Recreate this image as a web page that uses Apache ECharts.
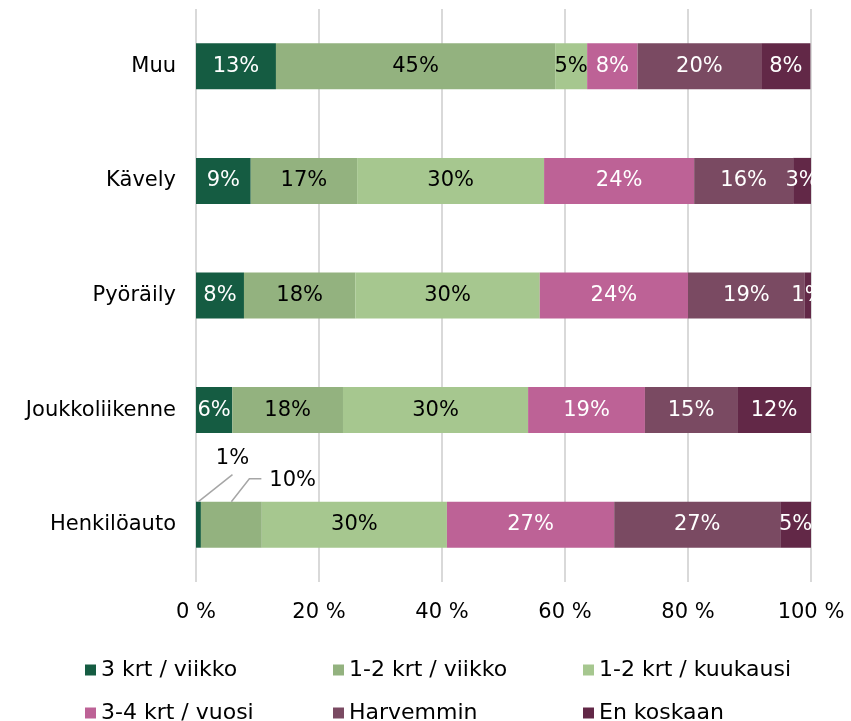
<!DOCTYPE html>
<html>
<head>
<meta charset="utf-8">
<script src="https://cdn.jsdelivr.net/npm/echarts@6/dist/echarts.min.js"></script>
<style>
  html, body { margin: 0; padding: 0; background: #fff; }
  #chart { width: 851px; height: 721px; }
</style>
</head>
<body>
<div id="chart"></div>
<script>
// categories bottom -> top (category axis starts at the bottom)
const categories = ['Henkilöauto', 'Joukkoliikenne', 'Pyöräily', 'Kävely', 'Muu'];

const seriesNames = ['3 krt / viikko', '1-2 krt / viikko', '1-2 krt / kuukausi', '3-4 krt / vuosi', 'Harvemmin', 'En koskaan'];
const colors = ['#155c42', '#93b27f', '#a6c78f', '#bd6296', '#7a4a62', '#622847'];
const labelColors = ['#fff', '#000', '#000', '#fff', '#fff', '#fff'];

// shares in percent, per series, same order as categories
const weekly3 = [0.8, 5.9, 7.8, 8.9, 13.0];
const weekly12 = [9.9, 18.0, 18.1, 17.3, 45.4];
const monthly12 = [30.1, 30.1, 30.0, 30.4, 5.2];
const yearly34 = [27.2, 19.0, 24.1, 24.4, 8.2];
const rarely = [27.0, 15.0, 19.0, 16.1, 20.1];
const never = [5.0, 12.0, 1.0, 2.9, 8.0];

const xTicks = ['0 %', '20 %', '40 %', '60 %', '80 %', '100 %'];

const allValues = [weekly3, weekly12, monthly12, yearly34, rarely, never];

// Henkilöauto's two thin segments get their labels outside, with a guide line
const calloutData = [
  [0, weekly3[0], 0],
  [weekly3[0], weekly3[0] + weekly12[0], 0]
];

const font = 'DejaVu Sans, Verdana, sans-serif';
const fs = 21;
const barW = 46;

const chart = echarts.init(document.getElementById('chart'));

const series = seriesNames.map((name, s) => ({
  name: name,
  type: 'bar',
  stack: 'total',
  barWidth: barW,
  itemStyle: { color: colors[s] },
  label: {
    show: true,
    position: 'inside',
    color: labelColors[s],
    fontFamily: font,
    fontSize: fs,
    formatter: (p) => Math.round(p.value) + '%'
  },
  data: allValues[s].map((v, i) => {
    // the callout series draws these two labels
    if (i === 0 && s < 2) return { value: v, label: { show: false } };
    return v;
  })
}));

series.push({
  type: 'custom',
  coordinateSystem: 'cartesian2d',
  silent: true,
  z: 5,
  encode: { x: [0, 1], y: 2 },
  data: calloutData,
  renderItem: (params, api) => {
    const start = api.value(0);
    const end = api.value(1);
    const mid = api.coord([(start + end) / 2, api.value(2)]);
    const x0 = mid[0];
    const y0 = mid[1] - barW / 2;
    const text = Math.round(end - start) + '%';
    let pts, tx, ty, align;
    if (params.dataIndex === 0) {
      pts = [[x0, y0], [x0 + 34, y0 - 27]];
      tx = x0 + 34; ty = y0 - 43; align = 'center';
    } else {
      pts = [[x0, y0], [x0 + 18, y0 - 23], [x0 + 30, y0 - 23]];
      tx = x0 + 38; ty = y0 - 21; align = 'left';
    }
    return {
      type: 'group',
      children: [
        {
          type: 'polyline',
          shape: { points: pts },
          style: { stroke: '#a6a6a6', lineWidth: 1.5, fill: null }
        },
        {
          type: 'text',
          style: {
            x: tx, y: ty, text: text,
            align: align, verticalAlign: 'middle',
            font: fs + 'px ' + font,
            fill: '#000'
          }
        }
      ]
    };
  }
});

const legendPos = [
  [85, 659], [333, 659], [583, 659],
  [85, 702], [333, 702], [583, 702]
];

const option = {
  animation: false,
  grid: { left: 196, right: 40, top: 9, bottom: 139, outerBoundsMode: 'none' },
  legend: seriesNames.map((name, s) => ({
    data: [name],
    left: legendPos[s][0],
    top: legendPos[s][1],
    padding: 0,
    icon: 'rect',
    itemWidth: 11,
    itemHeight: 11,
    textStyle: { fontFamily: font, fontSize: 22, color: '#000' }
  })),
  xAxis: {
    type: 'value',
    min: 0,
    max: 100,
    interval: 20,
    axisLine: { show: false },
    axisTick: { show: false },
    splitLine: { lineStyle: { color: '#d9d9d9', width: 2 } },
    axisLabel: {
      margin: 20,
      fontFamily: font,
      fontSize: fs,
      color: '#000',
      formatter: (v) => xTicks[v / 20]
    }
  },
  yAxis: {
    type: 'category',
    data: categories,
    axisLine: { show: false },
    axisTick: { show: false },
    axisLabel: { margin: 20, fontFamily: font, fontSize: fs, color: '#000' }
  },
  series: series
};

chart.setOption(option);
</script>
</body>
</html>
